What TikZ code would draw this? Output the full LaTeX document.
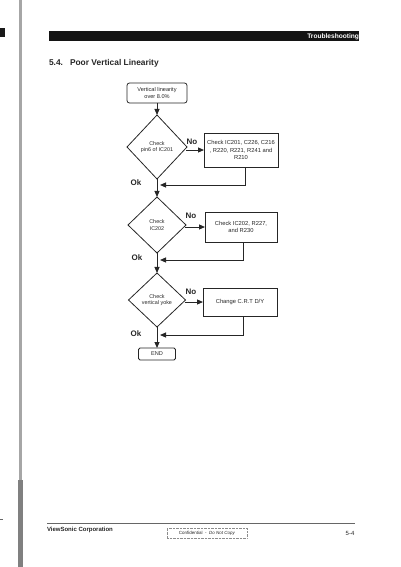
\documentclass[tikz,border=0pt]{standalone}
\usepackage{fontspec}
\setmainfont{Liberation Sans}
\usetikzlibrary{arrows.meta,shapes.geometric}
\begin{document}
\begin{tikzpicture}[x=1pt,y=-1pt,
  every node/.style={inner sep=0pt, outer sep=0pt, text=black!85},
  startbox/.style={draw=black!85, line width=0.8pt, rounded corners=2.5pt, align=center, font=\fontsize{5.6}{6.6}\selectfont},
  procbox/.style={draw=black!85, line width=0.8pt, align=center, font=\fontsize{5.8}{7.2}\selectfont},
  decision/.style={draw=black!85, line width=0.8pt, diamond, align=center, font=\fontsize{5.4}{6.6}\selectfont},
  flow/.style={draw=black!85, line width=1pt, -{Triangle[length=6pt,width=5pt]}},
  lbl/.style={font=\fontsize{8}{8}\selectfont\bfseries}
]
\useasboundingbox (0,0) rectangle (400,567);
% page decorations
\fill[black!90] (0,28) rectangle (5,37);
\fill[black!35] (19,0) rectangle (21.5,567);
\fill[black!50] (17.5,480) rectangle (22.5,567);
\draw[black!60, line width=0.6pt] (0,519) -- (3,519);
% header bar
\fill[black!92] (49,31) rectangle (359,41);
\node[anchor=east, text=white, font=\fontsize{6.6}{7}\selectfont\bfseries] (hdr) at (359,37) {Troubleshooting};
% title
\node[anchor=west, font=\fontsize{8.4}{9}\selectfont\bfseries] (title) at (49,63) {5.4.\ \ \ Poor Vertical Linearity};

% flowchart
\node[startbox, minimum width=60pt, minimum height=20pt] (start) at (157,93) {Vertical linearity\\over 8.0\%};

\node[decision, minimum width=60pt, minimum height=64pt] (d1) at (157,147) {Check\\pin6 of IC201};
\node[procbox, minimum width=74pt, minimum height=34pt] (b1) at (241,150) {Check IC201, C226, C216\\, R220, R221, R241 and\\R210};

\node[decision, minimum width=58pt, minimum height=56pt] (d2) at (157,225) {Check\\IC202};
\node[procbox, minimum width=72pt, minimum height=30pt] (b2) at (241,227) {Check IC202, R227,\\and R230};

\node[decision, minimum width=57pt, minimum height=54pt] (d3) at (157,300) {Check\\vertical yoke};
\node[procbox, minimum width=74pt, minimum height=28pt] (b3) at (240,302) {Change C.R.T D/Y};

\node[startbox, minimum width=37pt, minimum height=12pt, rounded corners=1.5pt] (end) at (157,354) {END};

% main flow
\draw[flow] (start) -- (d1);
\draw[flow] (d1) -- (d2);
\draw[flow] (d2) -- (d3);
\draw[flow] (d3) -- (end);

% No branches
\draw[flow] (d1.east |- b1.west) ++(-1,0) -- (b1.west);
\draw[flow] (d2.east |- b2.west) ++(-1,0) -- (b2.west);
\draw[flow] (d3.east |- b3.west) ++(-1,0) -- (b3.west);

% returns
\coordinate (r1) at (245,185);
\coordinate (r2) at (243,260);
\coordinate (r3) at (243,335);
\draw[flow] (b1.south -| r1) -- (r1) -- ([xshift=3pt]r1 -| d1.south);
\draw[flow] (b2.south -| r2) -- (r2) -- ([xshift=3pt]r2 -| d2.south);
\draw[flow] (b3.south -| r3) -- (r3) -- ([xshift=3pt]r3 -| d3.south);

% labels
\node[lbl] (no1) at (192,142) {No};
\node[lbl] (no2) at (191,216) {No};
\node[lbl] (no3) at (191,292) {No};
\node[lbl] (ok1) at (136,183) {Ok};
\node[lbl] (ok2) at (137,258) {Ok};
\node[lbl] (ok3) at (136,334) {Ok};

% footer
\draw[black!60, line width=0.9pt] (47,523) -- (355,523);
\node[anchor=west, font=\fontsize{6}{7}\selectfont\bfseries] (corp) at (47,530) {ViewSonic Corporation};
\node[draw=black!45, densely dotted, line width=0.4pt, minimum width=80pt, minimum height=10pt, font=\fontsize{4.5}{5}\selectfont] (conf) at (207,533) {Confidential\ \ -\ \ \textit{Do Not Copy}};
\node[font=\fontsize{6}{7}\selectfont] (page) at (350,533) {5-4};
\end{tikzpicture}
\end{document}
